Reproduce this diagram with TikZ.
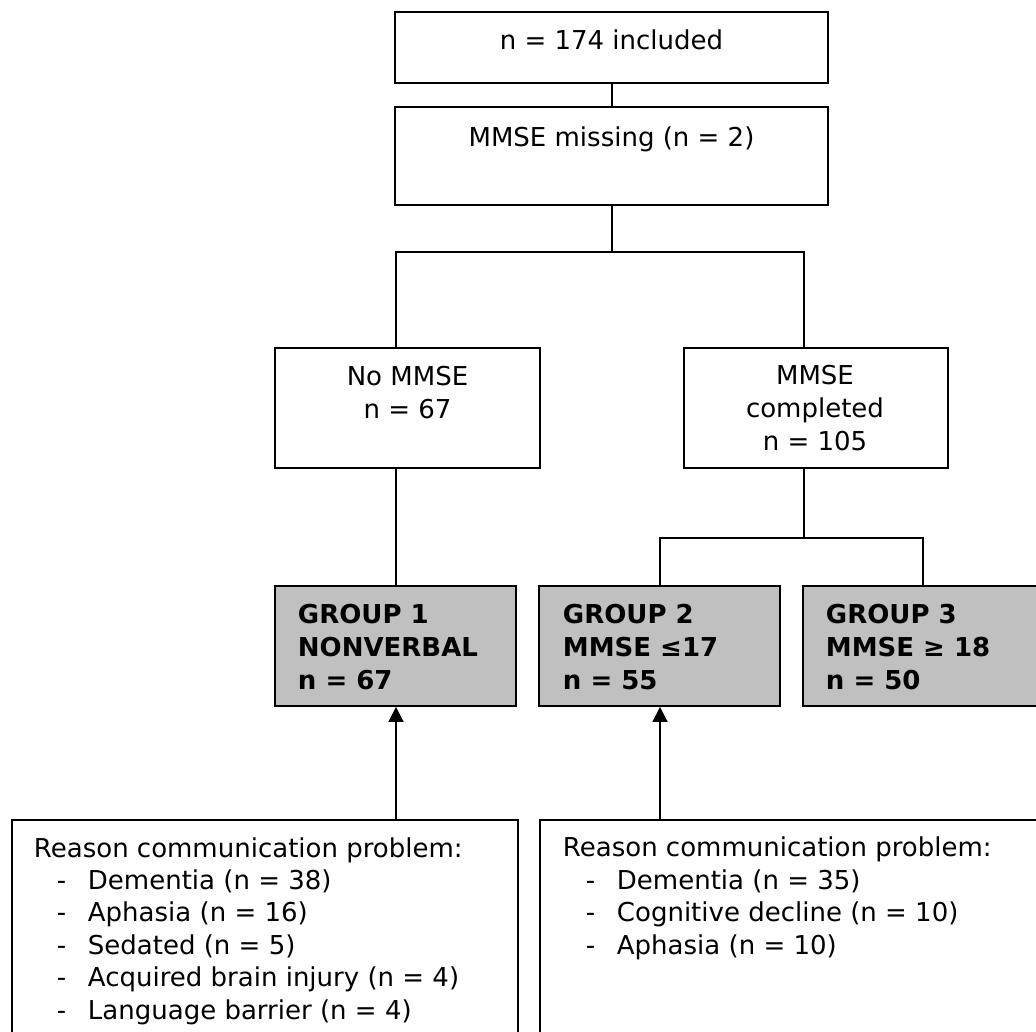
\documentclass[tikz,border=0pt]{standalone}
\usepackage{fontspec}
\setmainfont{DejaVu Sans}
\usetikzlibrary{arrows.meta}
\definecolor{grpgray}{HTML}{C0C0C0}

\begin{document}
\begin{tikzpicture}[
		x=1pt, y=-1pt,
		line width=1.9pt,
		box/.style={draw, rectangle, inner sep=0pt},
		grp/.style={box, fill=grpgray},
		txt/.style={inner sep=0pt, font=\fontsize{26}{33}\selectfont},
		grptxt/.style={txt, anchor=base west, align=left, font=\fontsize{26}{33}\selectfont\bfseries},
		reason/.style={txt, anchor=base west, align=left, font=\fontsize{26}{32.4}\selectfont},
		arrow/.style={-{Triangle[width=15pt,length=15pt]}},
	]
	\useasboundingbox (0,0) rectangle (1036,1032);

	% boxes
	\node (incl) [box, minimum width=433pt, minimum height=71pt] at (611.5,47.5) {};
	\node (miss) [box, minimum width=433pt, minimum height=98pt] at (611.5,156) {};
	\node (nomm) [box, minimum width=265pt, minimum height=120pt] at (407.5,408) {};
	\node (done) [box, minimum width=264pt, minimum height=120pt] at (816,408) {};
	\node (g1) [grp, minimum width=241pt, minimum height=120pt] at (395.5,646) {};
	\node (g2) [grp, minimum width=241pt, minimum height=120pt] at (659.5,646) {};
	\node (g3) [grp, minimum width=237pt, minimum height=120pt] at (921.5,646) {};
	\node (r1) [box, minimum width=506pt, minimum height=225pt] at (265,932.5) {};
	\node (r2) [box, minimum width=505pt, minimum height=225pt] at (792.5,932.5) {};

	% texts (base = last line)
	\node (incltxt) [txt, anchor=base] at (611.5,50) {n = 174 included};
	\node (misstxt) [txt, anchor=base] at (611.5,147) {MMSE missing (n = 2)};
	\node (nommtxt) [txt, anchor=base, align=center] at (407.5,418) {No MMSE\\n = 67};
	\node (donetxt) [txt, anchor=base, align=center] at (815,450) {MMSE\\completed\\n = 105};
	\node (g1txt) [grptxt] at (297,689) {GROUP 1\\NONVERBAL\\n = 67};
	\node (g2txt) [grptxt] at (562,689) {GROUP 2\\MMSE ≤17\\n = 55};
	\node (g3txt) [grptxt] at (825,689) {GROUP 3\\MMSE ≥ 18\\n = 50};
	\node (r1txt) [reason] at (33,1019) {Reason communication problem:\\
		\makebox[54pt][l]{\hspace*{23pt}-}Dementia (n = 38)\\
		\makebox[54pt][l]{\hspace*{23pt}-}Aphasia (n = 16)\\
		\makebox[54pt][l]{\hspace*{23pt}-}Sedated (n = 5)\\
		\makebox[54pt][l]{\hspace*{23pt}-}Acquired brain injury (n = 4)\\
		\makebox[54pt][l]{\hspace*{23pt}-}Language barrier (n = 4)};
	\node (r2txt) [reason] at (562,954) {Reason communication problem:\\
		\makebox[54pt][l]{\hspace*{23pt}-}Dementia (n = 35)\\
		\makebox[54pt][l]{\hspace*{23pt}-}Cognitive decline (n = 10)\\
		\makebox[54pt][l]{\hspace*{23pt}-}Aphasia (n = 10)};

	% branch points
	\coordinate (mid) at (612,252);
	\coordinate (brl) at (396,252);
	\coordinate (brr) at (804,252);
	\coordinate (bl2) at (660,538);
	\coordinate (br2) at (923,538);

	\draw (mid |- incl.south) -- (mid |- miss.north);
	\draw (mid |- miss.south) -- (mid);
	\draw (mid) -- (brl) -- (brl |- nomm.north);
	\draw (mid) -- (brr) -- (brr |- done.north);
	\draw (brl |- nomm.south) -- (brl |- g1.north);
	\draw (brr |- done.south) |- (bl2) -- (bl2 |- g2.north);
	\draw (brr |- done.south) |- (br2) -- (br2 |- g3.north);

	\draw[arrow] (brl |- r1.north) -- (brl |- g1.south);
	\draw[arrow] (bl2 |- r2.north) -- (bl2 |- g2.south);
\end{tikzpicture}
\end{document}
